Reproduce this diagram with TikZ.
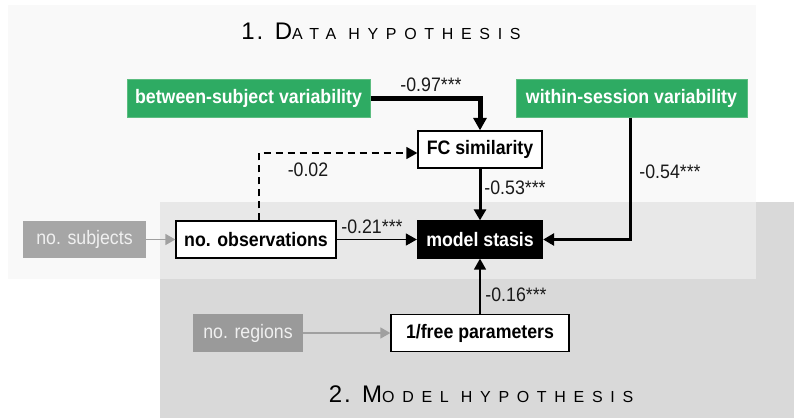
\documentclass[tikz,border=0pt]{standalone}
\usepackage{fontspec}
\setmainfont{Liberation Sans}
\newfontfamily\boxfont[FakeStretch=0.91]{Liberation Sans}
\newfontfamily\titlebig[LetterSpace=8]{Liberation Sans}
\newfontfamily\titlesmall[LetterSpace=48]{Liberation Sans}
\usetikzlibrary{arrows.meta}
\definecolor{panelA}{HTML}{F9F9F9}
\definecolor{panelB}{HTML}{D9D9D9}
\definecolor{panelAB}{HTML}{E8E8E8}
\definecolor{grn}{HTML}{2EAB63}
\definecolor{grnedge}{HTML}{5CBD80}
\definecolor{subjgray}{HTML}{A6A6A6}
\definecolor{reggray}{HTML}{9A9A9A}
\definecolor{lightgrtext}{HTML}{F0F0F0}
\definecolor{arrgray}{HTML}{A0A0A0}
\definecolor{lbltext}{HTML}{1A1A1A}
\tikzset{
  basebox/.style={inner sep=0pt, font=\boxfont\fontsize{19.5}{21}\selectfont},
  greenbox/.style={basebox, fill=grn, draw=grnedge, line width=1pt, text=white, font=\boxfont\bfseries\fontsize{19.5}{21}\selectfont},
  whitebox/.style={basebox, fill=white, draw=black, line width=1.3pt, font=\boxfont\bfseries\fontsize{19.5}{21}\selectfont},
  blackbox/.style={basebox, fill=black, draw=black, line width=1.3pt, text=white, font=\boxfont\bfseries\fontsize{19.5}{21}\selectfont},
  graybox/.style={basebox, text=lightgrtext},
  lbl/.style={inner sep=0pt, text=lbltext, font=\boxfont\fontsize{19.5}{21}\selectfont},
  ttl/.style={inner sep=0pt, anchor=base, text=black},
  thickarrow/.style={line width=5pt, -{Triangle[length=12.5pt,width=13pt]}},
  medarrow/.style={line width=3pt, -{Triangle[length=11pt,width=12pt]}},
  thinarrow/.style={line width=1.5pt, -{Triangle[length=11pt,width=12pt]}},
  grayarrow/.style={line width=1.5pt, draw=arrgray, -{Triangle[length=10pt,width=11pt,fill=arrgray]}},
}
\begin{document}
\begin{tikzpicture}[x=1pt,y=-1pt]
\useasboundingbox (0,0) rectangle (794,418);
% panels
\fill[panelA] (8,5) rectangle (756,279);
\fill[panelB] (160,202) rectangle (794,418);
\fill[panelAB] (160,202) rectangle (756,279);
% titles
\node[ttl] (t1) at (381,39) {\titlebig\fontsize{24}{26}\selectfont 1. D\titlesmall\fontsize{16}{18}\selectfont ATA HYPOTHESIS};
\node[ttl] (t2) at (481,402) {\titlebig\fontsize{24}{26}\selectfont 2. M\titlesmall\fontsize{16}{18}\selectfont ODEL HYPOTHESIS};
% boxes
\node[greenbox, minimum width=243pt, minimum height=38pt] (bsv) at (248.5,98) {between-subject variability};
\node[greenbox, minimum width=231pt, minimum height=38pt] (wsv) at (631.5,98) {within-session variability};
\node[whitebox, minimum width=124pt, minimum height=37pt] (fc) at (480,149.5) {FC similarity};
\node[blackbox, minimum width=125pt, minimum height=37pt] (ms) at (480,239.5) {model stasis};
\node[whitebox, minimum width=160pt, minimum height=37pt] (obs) at (256,239.5) {no. observations};
\node[graybox, fill=subjgray, minimum width=123pt, minimum height=37pt] (subj) at (84.5,239.5) {no. subjects};
\node[whitebox, minimum width=178pt, minimum height=37pt] (fp) at (480,333) {1/free parameters};
\node[graybox, fill=reggray, minimum width=110pt, minimum height=38pt] (reg) at (248,333) {no. regions};
% connectors
\draw[thickarrow] (bsv.east) -| (fc.north);
\draw[medarrow] (wsv.south -| 630,0) |- (ms.east);
\draw[medarrow] (fc.south) -- (ms.north);
\draw[thinarrow] (obs.east) -- (ms.west);
\draw[thinarrow] (fp.north) -- (ms.south);
\draw[thinarrow, dashed, dash pattern=on 7pt off 5pt] ([xshift=3pt]obs.north) |- ([yshift=-3.5pt]fc.west);
\draw[grayarrow] (subj.east) -- (obs.west);
\draw[grayarrow] (reg.east) -- (fp.west);
% labels
\node[lbl] (l97) at (431,85) {-0.97***};
\node[lbl] (l02) at (308,170) {-0.02};
\node[lbl] (l21) at (372,227) {-0.21***};
\node[lbl] (l53) at (515,188) {-0.53***};
\node[lbl] (l54) at (670,172) {-0.54***};
\node[lbl] (l16) at (516,295) {-0.16***};
\end{tikzpicture}
\end{document}
